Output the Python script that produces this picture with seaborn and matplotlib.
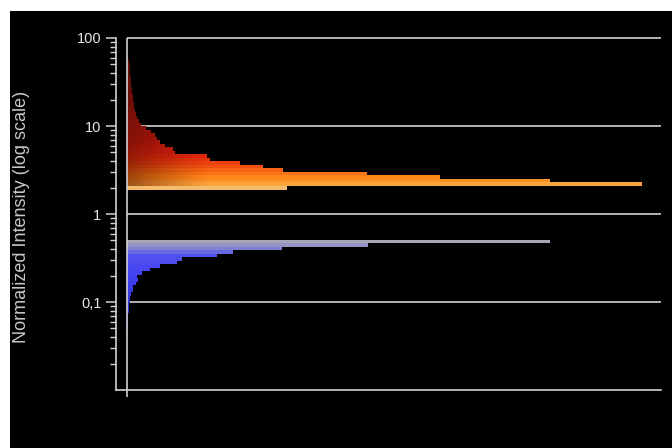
import numpy as np
import pandas as pd
import matplotlib
matplotlib.use("Agg")
import matplotlib.pyplot as plt
import seaborn as sns
from matplotlib.path import Path
from matplotlib.colors import LinearSegmentedColormap, Normalize
from matplotlib.ticker import LogLocator, NullFormatter, FixedLocator, FixedFormatter

# Histogram layout in log10(intensity) units
bin_step = 0.04

# Up-regulated group: lowest bin edge and counts from the bottom bin upwards
up_start = 0.278
up_counts = [160, 515, 423, 313, 240, 156, 136, 113, 83, 80, 48, 46, 38, 33,
             30, 28, 24, 19, 14, 12, 10, 9, 8, 7, 7, 6, 6, 5, 5, 4, 4, 4,
             3, 3, 3, 3, 2]

# Down-regulated group: highest bin edge and counts from the top bin downwards
low_top = -0.290
low_counts = [423, 241, 155, 106, 90, 55, 50, 33, 23, 15, 10, 11, 9, 6, 6,
              4, 3, 3, 2, 2, 2, 1, 1, 1, 1, 1]

y_ticks = [100, 10, 1, 0.1]
y_tick_labels = ["100", "10", "1", "0,1"]
y_label = "Normalized Intensity (log scale)"

# colour ramps along log10(intensity)
up_cmap = LinearSegmentedColormap.from_list("up", [
    (0.00, "#f4bc6c"), (0.03, "#ff9c2e"), (0.08, "#ff8418"),
    (0.14, "#f85e12"), (0.20, "#ec3c0e"), (0.26, "#e4200c"),
    (0.36, "#c81810"), (0.60, "#a01010"), (1.00, "#6c0e0e")])
up_norm = Normalize(0.30, 1.75)
low_cmap = LinearSegmentedColormap.from_list("low", [
    (0.00, "#2c2ca8"), (0.30, "#3434d8"), (0.62, "#4242f4"),
    (0.84, "#5252ee"), (0.90, "#7474dc"), (0.95, "#9090c8"),
    (1.00, "#a6a6b8")])
low_norm = Normalize(-1.30, -0.31)

up_edges = up_start + bin_step * np.arange(len(up_counts) + 1)
low_edges = low_top - bin_step * np.arange(len(low_counts) + 1)[::-1]
df_up = pd.DataFrame({"intensity": 10 ** ((up_edges[:-1] + up_edges[1:]) / 2),
                      "count": up_counts})
df_low = pd.DataFrame({"intensity": 10 ** ((low_edges[:-1] + low_edges[1:]) / 2),
                       "count": low_counts[::-1]})

sns.set_style("dark")
plt.rcParams["font.family"] = ["Liberation Sans", "DejaVu Sans"]

fig = plt.figure(figsize=(6.72, 4.48), dpi=100, facecolor="white")
backdrop = plt.Rectangle((10 / 672, 0), 662 / 672, 437 / 448,
                         transform=fig.transFigure, facecolor="black",
                         edgecolor="none", zorder=-10)
fig.add_artist(backdrop)
ax = fig.add_axes([116 / 672, 58 / 448, 545 / 672, 352 / 448])
ax.set_facecolor("black")


def draw_group(df, edges, cmap, norm):
    n0 = len(ax.patches)
    sns.histplot(data=df, y="intensity", weights="count",
                 bins=[float(e) for e in edges], log_scale=True,
                 element="bars", fill=True, linewidth=0, ax=ax, zorder=3)
    bars = ax.patches[n0:]
    for p in bars:
        y0, h = p.get_y(), p.get_height()
        c = (np.log10(y0) + np.log10(y0 + h)) / 2
        p.set_facecolor(cmap(norm(c)))
        p.set_edgecolor("none")
        p.set_alpha(1)
    return bars


up_bars = draw_group(df_up, up_edges, up_cmap, up_norm)
low_bars = draw_group(df_low, low_edges, low_cmap, low_norm)

# deeper, browner tone of the up-regulated bars close to the baseline
verts, codes = [], []
for p in up_bars[1:]:
    x0, y0, w, h = p.get_x(), p.get_y(), p.get_width(), p.get_height()
    verts += [(x0, y0), (x0 + w, y0), (x0 + w, y0 + h), (x0, y0 + h), (x0, y0)]
    codes += [Path.MOVETO, Path.LINETO, Path.LINETO, Path.LINETO, Path.CLOSEPOLY]
shade_x = np.linspace(0, 1, 256)
shade = np.zeros((1, 256, 4))
shade[0, :, 0] = 0.32
shade[0, :, 1] = 0.06
shade[0, :, 3] = 0.55 * np.clip(1 - shade_x / 0.42, 0, 1) ** 1.2
im = ax.imshow(shade, extent=[0, 200, 10 ** up_edges[0], 10 ** up_edges[-1]],
               aspect="auto", zorder=4, interpolation="bilinear")
im.set_clip_path(Path(verts, codes), ax.transData)

ax.set_yscale("log")
ax.set_xlim(-11, 534)
ax.set_ylim(0.01, 100)

line_col = "#d2d2d2"
ax.hlines(y_ticks, 0, 534, colors=line_col, linewidth=1.2, zorder=2,
          clip_on=False)
ax.vlines(0, 0.0083, 100, colors=line_col, linewidth=1.2, zorder=5,
          clip_on=False)

for side in ["top", "right"]:
    ax.spines[side].set_visible(False)
for side in ["left", "bottom"]:
    ax.spines[side].set_visible(True)
    ax.spines[side].set_color(line_col)
    ax.spines[side].set_linewidth(1.2)

ax.yaxis.set_major_locator(FixedLocator(y_ticks))
ax.yaxis.set_major_formatter(FixedFormatter(y_tick_labels))
ax.yaxis.set_minor_locator(LogLocator(base=10, subs=np.arange(2, 10)))
ax.yaxis.set_minor_formatter(NullFormatter())
ax.tick_params(axis="y", which="major", direction="out", length=7.5,
               width=1.1, color=line_col, labelcolor="#e6e6e6",
               labelsize=10.5, pad=3, left=True)
ax.tick_params(axis="y", which="minor", direction="out", length=4.5,
               width=1.0, color=line_col, left=True)
ax.set_xticks([])
ax.set_xlabel("")
ax.set_ylabel("")
ax.grid(False)

fig.text(22 / 672, 1 - 217 / 448, y_label, rotation=90, color="#c8c8c8",
         fontsize=13, ha="center", va="center")

fig.savefig("out.png", dpi=100, facecolor=fig.get_facecolor())
